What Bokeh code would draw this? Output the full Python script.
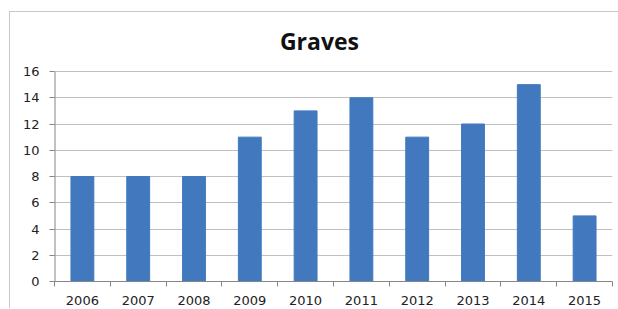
from bokeh.plotting import figure
from bokeh.models import FixedTicker, ColumnDataSource, Range1d, Label
from bokeh.embed import file_html
from bokeh.resources import INLINE

title_text = "Graves"
years = ["2006", "2007", "2008", "2009", "2010", "2011", "2012", "2013", "2014", "2015"]
graves = [8, 8, 8, 11, 13, 14, 11, 12, 15, 5]
y_ticks = [0, 2, 4, 6, 8, 10, 12, 14, 16]

xs = [i + 0.5 for i in range(len(years))]
src = ColumnDataSource(dict(x=xs, top=graves, year=years))

# frame spans the title area too; 16 sits at 210px above the baseline of a 259px frame
y_top = y_ticks[-1] * 259 / 210

p = figure(width=609, height=297, output_backend="svg", toolbar_location=None,
           x_range=Range1d(0, len(years)), y_range=Range1d(0, y_top),
           min_border_left=44, min_border_right=7, min_border_bottom=28, min_border_top=10)
p.styles = {"border-left": "1px solid #c8c8c8", "border-top": "1px solid #c8c8c8",
            "margin-top": "11px", "margin-left": "9px"}

p.vbar(x="x", top="top", width=0.41, source=src, fill_color="#4279BE", line_color="#4279BE")
p.segment(x0=[0], y0=[y_ticks[0]], x1=[0], y1=[y_ticks[-1]], line_color="#868686", line_width=2)

p.add_layout(Label(x=len(years) / 2, y=y_ticks[-1], text=title_text,
                   x_offset=-14, y_offset=31,
                   text_align="center", text_baseline="alphabetic",
                   text_font="Open Sans", text_font_size="23px", text_font_style="bold",
                   text_color="#111111"))

p.outline_line_color = None
p.xgrid.grid_line_color = None
p.ygrid.grid_line_color = "#c0c0c0"
p.ygrid.ticker = FixedTicker(ticks=y_ticks)

xa = p.xaxis[0]
xa.ticker = FixedTicker(ticks=xs, minor_ticks=list(range(len(years) + 1)))
xa.major_label_overrides = {x: y for x, y in zip(xs, years)}
xa.major_tick_out = 0
xa.major_tick_in = 0
xa.minor_tick_out = 5
xa.minor_tick_in = 0
xa.minor_tick_line_color = "#868686"
xa.axis_line_color = "#868686"
xa.major_label_text_font = "DejaVu Sans"
xa.major_label_text_font_size = "13px"
xa.major_label_text_color = "#222222"
xa.major_label_standoff = 9

ya = p.yaxis[0]
ya.ticker = FixedTicker(ticks=y_ticks)
ya.major_tick_out = 5
ya.major_tick_in = 0
ya.minor_tick_line_color = None
ya.major_tick_line_color = "#868686"
ya.axis_line_color = None
ya.major_label_text_font = "DejaVu Sans"
ya.major_label_text_font_size = "13px"
ya.major_label_text_color = "#222222"
ya.major_label_standoff = 10

open("out.html", "w").write(file_html(p, INLINE))
